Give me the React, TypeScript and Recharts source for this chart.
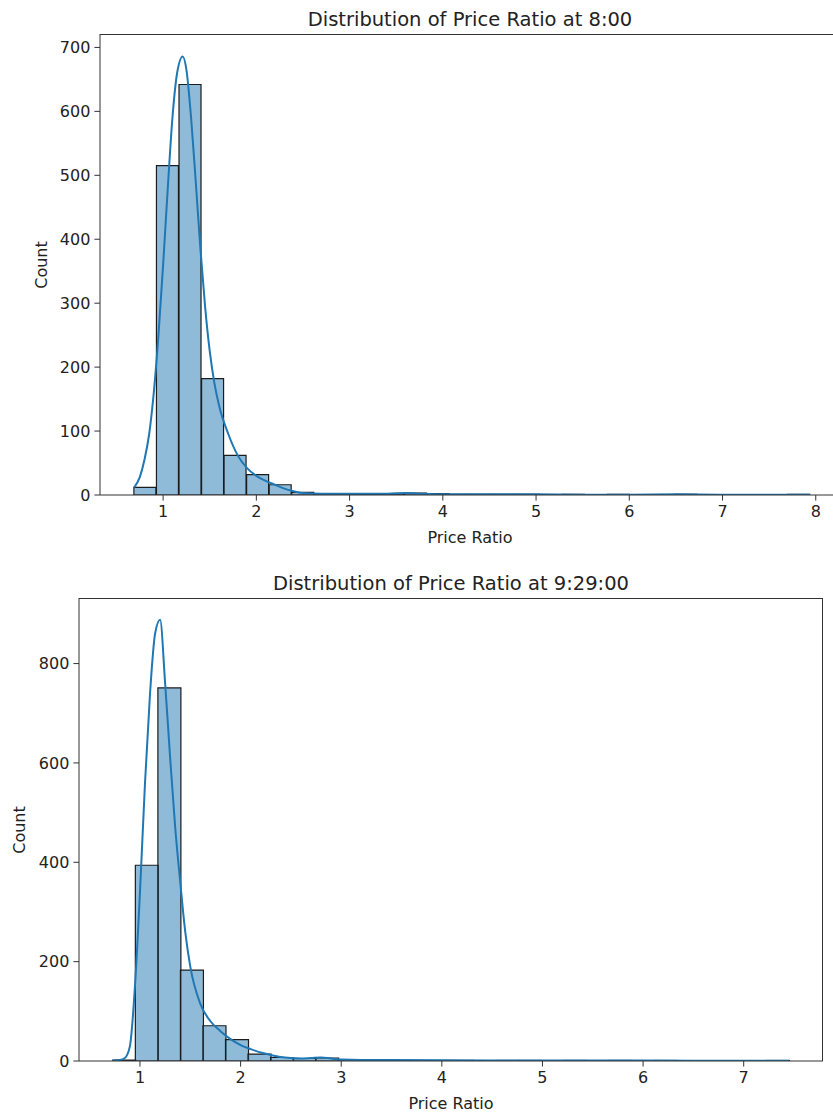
import { ComposedChart, Bar, Line, XAxis, YAxis } from "recharts";

// ---- 8:00 histogram (30 bins) ----
const binCenters800 = [
  0.807, 1.049, 1.291, 1.533, 1.774, 2.016, 2.258, 2.5, 2.742, 2.983,
  3.225, 3.467, 3.709, 3.951, 4.192, 4.434, 4.676, 4.918, 5.16, 5.401,
  5.643, 5.885, 6.127, 6.369, 6.61, 6.852, 7.094, 7.336, 7.578, 7.819,
];
const counts800 = [
  12, 515, 642, 182, 62, 32, 16, 4, 2, 2,
  1, 2, 3, 2, 1, 1, 1, 1, 0, 1,
  0, 1, 0, 0, 1, 0, 0, 0, 0, 1,
];
// kde curve
const kdeX800 = [
  0.69, 0.75, 0.8, 0.85, 0.9, 0.95, 1.0, 1.05, 1.1, 1.15, 1.21, 1.25, 1.3, 1.35, 1.4,
  1.45, 1.5, 1.55, 1.6, 1.7, 1.8, 1.9, 2.0, 2.1, 2.2, 2.3, 2.4, 2.5, 2.7, 3.0,
  3.3, 3.6, 3.8, 4.1, 4.5, 5.0, 5.5, 6.0, 6.5, 7.0, 7.5, 7.94,
];
const kdeY800 = [
  12, 28, 55, 95, 160, 250, 360, 480, 590, 660, 686, 665, 590, 490, 385,
  295, 225, 175, 140, 95, 62, 42, 30, 22, 16, 10, 6, 3, 2, 2,
  2, 3, 2, 1, 1, 1, 0.5, 0.5, 1, 0.5, 0.5, 0.3,
];
const xTicks800 = [1, 2, 3, 4, 5, 6, 7, 8];
const yTicks800 = [0, 100, 200, 300, 400, 500, 600, 700];

// ---- 9:29:00 histogram (30 bins) ----
const binCenters929 = [
  0.842, 1.066, 1.29, 1.514, 1.738, 1.962, 2.186, 2.41, 2.634, 2.858,
  3.082, 3.306, 3.53, 3.754, 3.978, 4.202, 4.426, 4.65, 4.874, 5.098,
  5.322, 5.546, 5.77, 5.994, 6.218, 6.442, 6.666, 6.89, 7.114, 7.338,
];
const counts929 = [
  2, 394, 751, 183, 71, 43, 14, 7, 5, 6,
  3, 2, 1, 1, 1, 1, 0, 1, 1, 0,
  1, 0, 1, 0, 1, 0, 0, 0, 0, 1,
];
const kdeX929 = [
  0.73, 0.8, 0.85, 0.9, 0.95, 1.0, 1.05, 1.1, 1.15, 1.2, 1.25, 1.3, 1.35, 1.4, 1.45,
  1.5, 1.6, 1.7, 1.8, 1.9, 2.0, 2.1, 2.2, 2.3, 2.4, 2.5, 2.6, 2.7, 2.8, 2.9,
  3.0, 3.2, 3.5, 4.0, 4.5, 5.0, 5.5, 6.0, 6.5, 7.0, 7.45,
];
const kdeY929 = [
  1, 2, 6, 30, 150, 340, 560, 740, 860, 888, 760, 610, 470, 360, 260,
  190, 115, 80, 60, 44, 32, 24, 17, 12, 8, 6, 5, 6, 7, 5,
  3, 2, 2, 1.5, 1, 1, 1, 1, 0.5, 0.5, 0.3,
];
const xTicks929 = [1, 2, 3, 4, 5, 6, 7];
const yTicks929 = [0, 200, 400, 600, 800];

const FONT = "DejaVu Sans";
const C0 = "#1f77b4";
const SPINE = "#333";
const tickStyle = { fontSize: 16, fontFamily: FONT, fill: "#222" };

type PanelProps = {
  top: number;
  height: number;
  margin: { top: number; right: number; bottom: number; left: number };
  centers: number[];
  counts: number[];
  kdeX: number[];
  kdeY: number[];
  xDomain: [number, number];
  yDomain: [number, number];
  xTicks: number[];
  yTicks: number[];
};

const WIDTH = 860;

const Panel = (p: PanelProps) => {
  const bins = p.centers.map((c, i) => ({ x: c, count: p.counts[i] }));
  const kde = p.kdeX.map((x, i) => ({ x, y: p.kdeY[i] }));
  const plotLeft = p.margin.left + 60;
  const plotTop = p.margin.top;
  const plotW = WIDTH - plotLeft - p.margin.right;
  const plotH = p.height - p.margin.top - p.margin.bottom - 30;
  return (
    <div style={{ position: "absolute", left: 0, top: p.top, width: WIDTH, height: p.height }}>
      <ComposedChart width={WIDTH} height={p.height} data={bins} margin={p.margin} barCategoryGap={0} barGap={0}>
        <XAxis
          dataKey="x"
          type="number"
          domain={p.xDomain}
          allowDataOverflow
          ticks={p.xTicks}
          interval={0}
          tick={tickStyle}
          tickSize={5.6}
          tickMargin={5}
          stroke={SPINE}
          height={30}
        />
        <XAxis xAxisId="kde" dataKey="x" type="number" domain={p.xDomain} allowDataOverflow hide />
        <YAxis
          type="number"
          domain={p.yDomain}
          allowDataOverflow
          ticks={p.yTicks}
          interval={0}
          tick={tickStyle}
          tickSize={5.6}
          tickMargin={4}
          stroke={SPINE}
          width={60}
        />
        <Bar
          dataKey="count"
          fill={C0}
          fillOpacity={0.5}
          stroke="#1c1c1c"
          strokeWidth={1.2}
          isAnimationActive={false}
        />
        <Line
          data={kde}
          xAxisId="kde"
          dataKey="y"
          type="monotone"
          stroke={C0}
          strokeWidth={2}
          dot={false}
          activeDot={false}
          isAnimationActive={false}
        />
      </ComposedChart>
      <div
        style={{
          position: "absolute",
          left: plotLeft,
          top: plotTop,
          width: plotW,
          height: plotH,
          borderTop: `1px solid ${SPINE}`,
          borderRight: `1px solid ${SPINE}`,
          boxSizing: "border-box",
          pointerEvents: "none",
        }}
      />
    </div>
  );
};

const App = () => {
  return (
    <div style={{ position: "absolute", left: 0, top: 0, width: 833, height: 1115, overflow: "hidden", background: "#fff" }}>
      <Panel
        top={0}
        height={560}
        margin={{ top: 34, right: 16, bottom: 35, left: 40 }}
        centers={binCenters800}
        counts={counts800}
        kdeX={kdeX800}
        kdeY={kdeY800}
        xDomain={[0.323, 8.303]}
        yDomain={[0, 721]}
        xTicks={xTicks800}
        yTicks={yTicks800}
      />
      <Panel
        top={560}
        height={555}
        margin={{ top: 38, right: 37, bottom: 24, left: 19 }}
        centers={binCenters929}
        counts={counts929}
        kdeX={kdeX929}
        kdeY={kdeY929}
        xDomain={[0.394, 7.788]}
        yDomain={[0, 932]}
        xTicks={xTicks929}
        yTicks={yTicks929}
      />
      <svg width={833} height={1115} style={{ position: "absolute", left: 0, top: 0, pointerEvents: "none" }}>
        <g fontFamily={FONT} fill="#222">
          <text x={470} y={26} fontSize={19.5} textAnchor="middle">Distribution of Price Ratio at 8:00</text>
          <text x={470} y={543} fontSize={16} textAnchor="middle">Price Ratio</text>
          <text x={47} y={265} fontSize={16} textAnchor="middle" transform="rotate(-90 47 265)">Count</text>
          <text x={451} y={590} fontSize={19.5} textAnchor="middle">Distribution of Price Ratio at 9:29:00</text>
          <text x={451} y={1109} fontSize={16} textAnchor="middle">Price Ratio</text>
          <text x={25} y={830} fontSize={16} textAnchor="middle" transform="rotate(-90 25 830)">Count</text>
        </g>
      </svg>
    </div>
  );
};

export default App;
